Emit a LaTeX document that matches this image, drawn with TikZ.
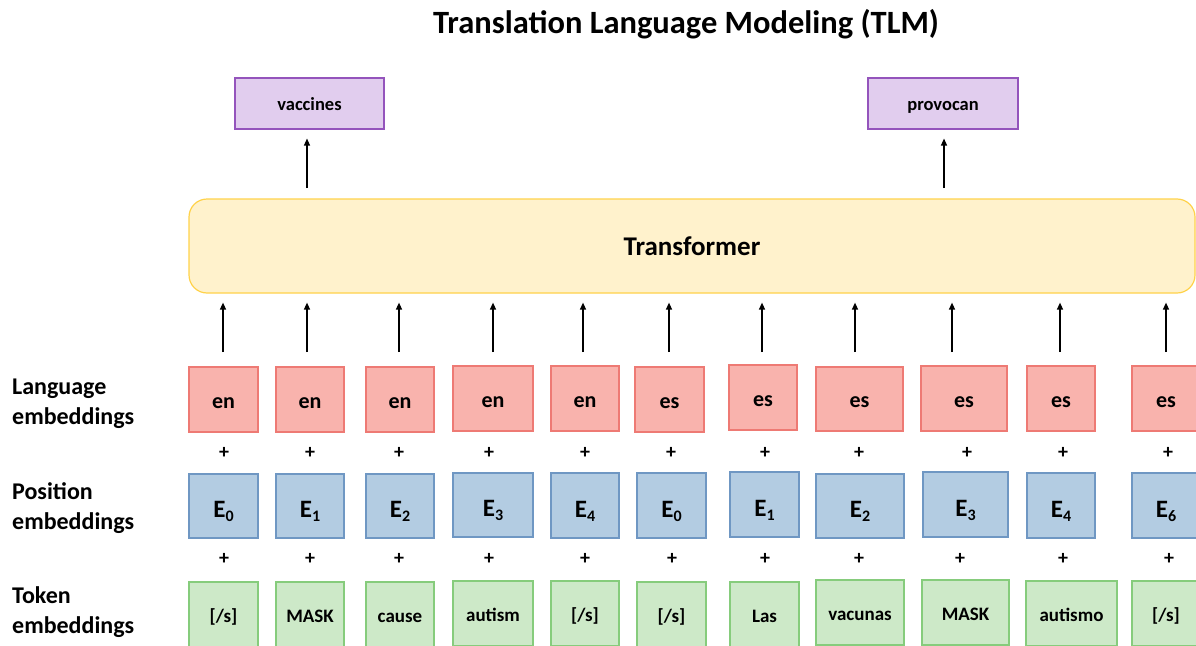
\documentclass[tikz,border=0pt]{standalone}
\usepackage{fontspec}
\setmainfont{Carlito}
\usetikzlibrary{arrows.meta}

\definecolor{langfill}{HTML}{F9B3AD}
\definecolor{langdraw}{HTML}{EE7A74}
\definecolor{posfill}{HTML}{B3CCE2}
\definecolor{posdraw}{HTML}{6F97C3}
\definecolor{tokfill}{HTML}{CDE9C8}
\definecolor{tokdraw}{HTML}{86CC7C}
\definecolor{outfill}{HTML}{E1CDEE}
\definecolor{outdraw}{HTML}{9454BC}
\definecolor{tffill}{HTML}{FFF2CC}
\definecolor{tfdraw}{HTML}{FFD24A}

% subscript index of a position embedding
\newcommand{\posidx}[1]{\raisebox{-4pt}{\fontsize{16}{16}\selectfont #1}}

\tikzset{
  % text depth 0 and a fixed text height put every baseline at half that
  % height below the box centre, whatever the word
  emb/.style={rectangle, inner sep=0pt, line width=1.1pt, text depth=0pt},
  langbox/.style={emb, fill=langfill, draw=langdraw, text height=17pt,
    font=\fontsize{22}{24}\selectfont\bfseries},
  posbox/.style={emb, fill=posfill, draw=posdraw, text height=23pt,
    font=\fontsize{25}{27}\selectfont\bfseries},
  tokbox/.style={emb, fill=tokfill, draw=tokdraw, text height=16pt,
    font=\fontsize{19}{22}\selectfont\bfseries},
  outbox/.style={emb, fill=outfill, draw=outdraw, text height=13pt,
    font=\fontsize{18.5}{21}\selectfont\bfseries},
  plus/.style={inner sep=0pt, font=\fontsize{20}{22}\selectfont\bfseries},
  rowlabel/.style={anchor=west, align=left, inner sep=0pt,
    font=\fontsize{24}{30}\selectfont\bfseries},
  uparrow/.style={line width=1.3pt, -{Triangle[length=7pt,width=6pt]}},
}

\begin{document}
\begin{tikzpicture}[x=1pt,y=-1pt]
\useasboundingbox (0,0) rectangle (1196,645);
\clip (0,0) rectangle (1196,645);

% title
\node[font=\fontsize{32.5}{36}\selectfont\bfseries] (title) at (686,24)
  {Translation Language Modeling (TLM)};

% transformer block
\node[rectangle, rounded corners=18pt, line width=1.2pt, fill=tffill, draw=tfdraw,
  minimum width=1006pt, minimum height=94pt, inner sep=0pt,
  font=\fontsize{27}{30}\selectfont\bfseries] (tf) at (692,246) {Transformer};

% predicted words
\node[outbox, minimum width=149pt, minimum height=51pt] (o1) at (309.5,103.5) {vaccines};
\node[outbox, minimum width=150pt, minimum height=51pt] (o2) at (943,103.5) {provocan};
\coordinate (s1) at (307,188);
\coordinate (s2) at (944,188);
\draw[uparrow, shorten >=9pt] (s1) -- (s1 |- o1.south);
\draw[uparrow, shorten >=9pt] (s2) -- (s2 |- o2.south);

% row labels
\node[rowlabel] (rl) at (12,403.5) {Language\\embeddings};
\node[rowlabel] (rp) at (12,508.5) {Position\\embeddings};
\node[rowlabel] (rt) at (12,612.5) {Token\\embeddings};

% language embeddings
\foreach \i/\a/\b/\c/\d/\t in {
  1/189/258/367/432/en, 2/276/344/367/432/en, 3/366/434/367/432/en,
  4/453/533/366/431/en, 5/551/619/366/431/en, 6/635/704/367/432/es,
  7/729/797/365/430/es, 8/816/903/367/431/es, 9/921/1007/366/431/es,
  10/1027/1095/366/431/es, 11/1132/1200/366/431/es}
  \node[langbox, minimum width={\b-\a}, minimum height={\d-\c}]
    (l\i) at ({(\a+\b)/2},{(\c+\d)/2}) {\t};

% position embeddings
\foreach \i/\a/\b/\c/\d/\t in {
  1/189/258/474/538/0, 2/276/344/474/538/1, 3/366/434/474/538/2,
  4/453/533/473/537/3, 5/551/619/473/538/4, 6/637/706/473/538/0,
  7/730/799/472/537/1, 8/816/904/474/538/2, 9/923/1008/472/537/3,
  10/1027/1095/473/538/4, 11/1132/1200/473/538/6}
  \node[posbox, minimum width={\b-\a}, minimum height={\d-\c}]
    (p\i) at ({(\a+\b)/2},{(\c+\d)/2}) {E\posidx{\t}};

% token embeddings
\foreach \i/\a/\b/\c/\t in {
  1/189/258/582/{[/s]}, 2/276/344/582/MASK, 3/366/434/582/cause,
  4/453/533/581/autism, 5/551/619/581/{[/s]}, 6/637/706/582/{[/s]},
  7/730/799/582/Las, 8/816/904/580/vacunas, 9/922/1009/580/MASK,
  10/1026/1117/581/autismo, 11/1132/1200/581/{[/s]}}
  \node[tokbox, minimum width={\b-\a}, minimum height=65pt]
    (t\i) at ({(\a+\b)/2},{\c+32.5}) {\t};

% plus signs between rows
\foreach \i/\x/\y in {1/224/224, 2/310/310, 3/399/399, 4/489/489, 5/585/585,
  6/671/672, 7/765/765, 8/859/859, 9/967/960, 10/1063/1063, 11/1168/1169} {
  \node[plus] (pa\i) at (\x,453) {+};
  \node[plus] (pb\i) at (\y,559) {+};
}

% arrows into the transformer
\foreach \i/\x in {1/223, 2/307, 3/399, 4/493, 5/583, 6/669, 7/762, 8/855,
  9/952, 10/1060, 11/1166} {
  \coordinate (a\i) at (\x,352);
  \draw[uparrow, shorten >=9pt] (a\i) -- (a\i |- tf.south);
}
\end{tikzpicture}
\end{document}
